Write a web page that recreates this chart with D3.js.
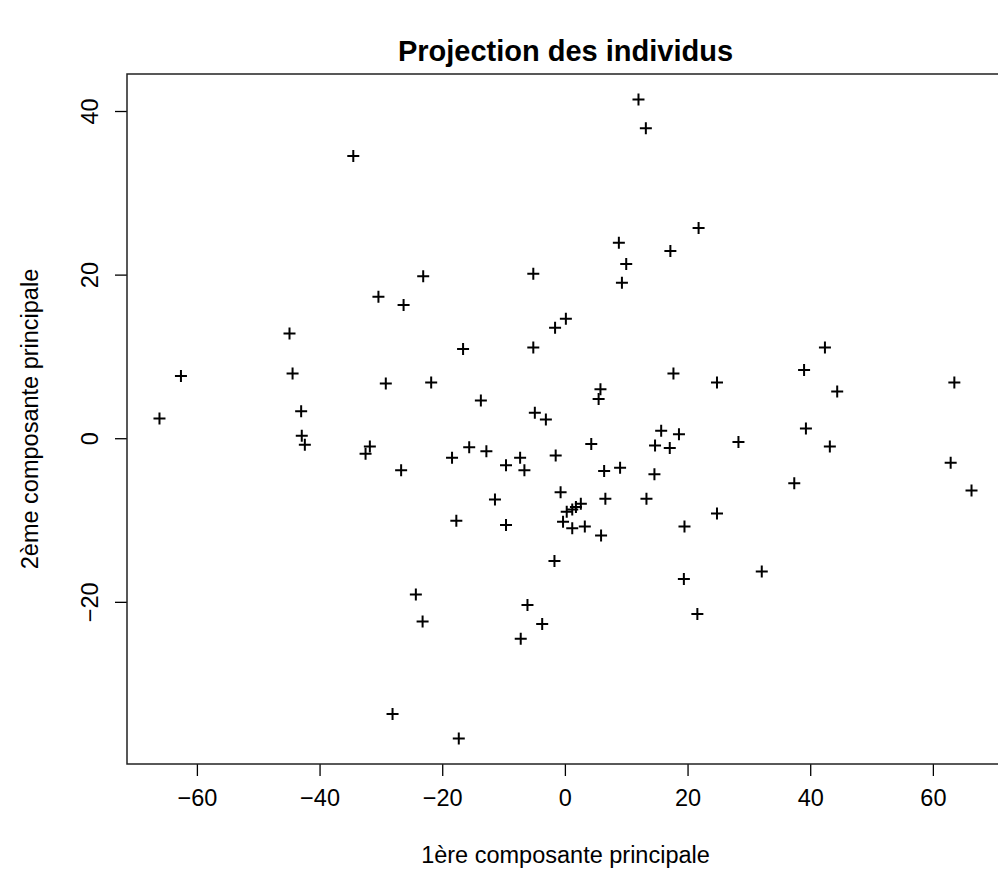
<!DOCTYPE html>
<html>
<head>
<meta charset="utf-8">
<script src="https://cdn.jsdelivr.net/npm/d3@7"></script>
<style>
  html, body { margin: 0; padding: 0; background: #fff; }
  svg { display: block; }
  text { font-family: "Liberation Sans", Arial, Helvetica, sans-serif; fill: #000; }
</style>
</head>
<body>
<svg id="chart" width="998" height="872"></svg>
<script>
// Scores of the individuals on the first two principal components
const pc1 = [
  -34.5, 12.0, 13.2, 21.8, 8.8, 17.2, 10.0, 9.3, -23.1, -5.15,
  -30.4, -26.3, -44.9, -62.6, -44.4, -29.2, -66.1, -43.0, -42.9, -42.4,
  -31.8, -32.5, -26.7, 0.16, -1.6, -16.6, -5.15, -21.8, 17.7, -13.7,
  5.8, 5.5, -4.9, -3.1, 15.7, 18.6, 4.3, 14.7, 17.1, -15.6,
  -12.8, -18.4, -7.3, -9.6, -6.6, -1.5, 6.4, 9.0, 14.6, -0.7,
  -11.4, 6.6, 13.3, 0.3, 1.2, 1.8, 2.6, -17.7, -9.6, -0.3,
  19.5, 1.2, 3.25, 5.9, -1.7, 19.4, -24.3, -23.2, -6.1, -3.7,
  -7.2, 21.6, -17.3, -28.1, 42.4, 39.0, 24.8, 44.4, 63.5, 39.3,
  43.2, 28.3, 62.9, 66.3, 37.4, 24.8, 32.1
];
const pc2 = [
  34.5, 41.4, 37.9, 25.7, 23.9, 22.9, 21.3, 19.0, 19.8, 20.1,
  17.3, 16.3, 12.8, 7.6, 7.9, 6.7, 2.4, 3.3, 0.3, -0.8,
  -1.0, -1.9, -3.9, 14.6, 13.5, 10.9, 11.1, 6.8, 7.9, 4.6,
  6.0, 4.8, 3.1, 2.3, 0.9, 0.5, -0.7, -0.9, -1.2, -1.1,
  -1.6, -2.4, -2.4, -3.3, -3.9, -2.1, -4.0, -3.6, -4.4, -6.6,
  -7.5, -7.4, -7.4, -9.0, -8.7, -8.4, -8.0, -10.1, -10.6, -10.2,
  -10.8, -11.0, -10.8, -11.9, -15.0, -17.2, -19.1, -22.4, -20.4, -22.7,
  -24.5, -21.5, -36.7, -33.7, 11.1, 8.35, 6.8, 5.7, 6.8, 1.2,
  -1.0, -0.45, -3.0, -6.4, -5.5, -9.2, -16.3
];

const xTicks = [-60, -40, -20, 0, 20, 40, 60];
const yTicks = [-20, 0, 20, 40];

const titleText = "Projection des individus";
const xLabel = "1ère composante principale";
const yLabel = "2ème composante principale";

// Plot region in pixels
const plot = { left: 127, right: 1004, top: 74, bottom: 764 };

// Axis ranges padded by 4% on each side of the data
function padded(values) {
  const [lo, hi] = d3.extent(values);
  const pad = (hi - lo) * 0.04;
  return [lo - pad, hi + pad];
}

const x = d3.scaleLinear().domain(padded(pc1)).range([plot.left, plot.right]);
const y = d3.scaleLinear().domain(padded(pc2)).range([plot.bottom, plot.top]);

const svg = d3.select("#chart");
const tickFmt = d => d < 0 ? "\u2212" + Math.abs(d) : String(d);
const fontSize = 23.5;

// Bottom axis
const xAxis = svg.append("g")
  .attr("transform", `translate(0,${plot.bottom})`)
  .call(d3.axisBottom(x).tickValues(xTicks).tickSize(12).tickPadding(13).tickFormat(tickFmt));
xAxis.select(".domain").remove();
xAxis.selectAll("line").attr("stroke", "#000").attr("stroke-width", 1.3);
xAxis.selectAll("text").attr("font-size", fontSize).attr("fill", "#000")
  .style("font-family", "'Liberation Sans', Arial, sans-serif");

// Left axis, labels parallel to the axis
const yAxis = svg.append("g")
  .attr("transform", `translate(${plot.left},0)`)
  .call(d3.axisLeft(y).tickValues(yTicks).tickSize(12).tickPadding(0).tickFormat(tickFmt));
yAxis.select(".domain").remove();
yAxis.selectAll("line").attr("stroke", "#000").attr("stroke-width", 1.3);
yAxis.selectAll(".tick text")
  .attr("x", null).attr("dy", null)
  .attr("text-anchor", "middle")
  .attr("font-size", fontSize).attr("fill", "#000")
  .style("font-family", "'Liberation Sans', Arial, sans-serif")
  .attr("transform", "translate(-29,0) rotate(-90)");

// Plot frame
svg.append("rect")
  .attr("x", plot.left).attr("y", plot.top)
  .attr("width", plot.right - plot.left).attr("height", plot.bottom - plot.top)
  .attr("fill", "none").attr("stroke", "#222").attr("stroke-width", 1.5);

// Points drawn as plus signs
const arm = 6;
const pts = svg.append("g").attr("stroke", "#000").attr("stroke-width", 2);
pc1.forEach((v, i) => {
  const cx = x(v), cy = y(pc2[i]);
  pts.append("path").attr("d", `M${cx - arm},${cy}H${cx + arm}M${cx},${cy - arm}V${cy + arm}`);
});

// Title and axis titles
svg.append("text")
  .attr("x", (plot.left + plot.right) / 2).attr("y", 61)
  .attr("text-anchor", "middle").attr("font-size", 29).attr("font-weight", "bold")
  .text(titleText);

svg.append("text")
  .attr("x", (plot.left + plot.right) / 2).attr("y", 863)
  .attr("text-anchor", "middle").attr("font-size", fontSize)
  .text(xLabel);

svg.append("text")
  .attr("transform", `translate(38,${(plot.top + plot.bottom) / 2}) rotate(-90)`)
  .attr("text-anchor", "middle").attr("font-size", fontSize)
  .text(yLabel);
</script>
</body>
</html>
